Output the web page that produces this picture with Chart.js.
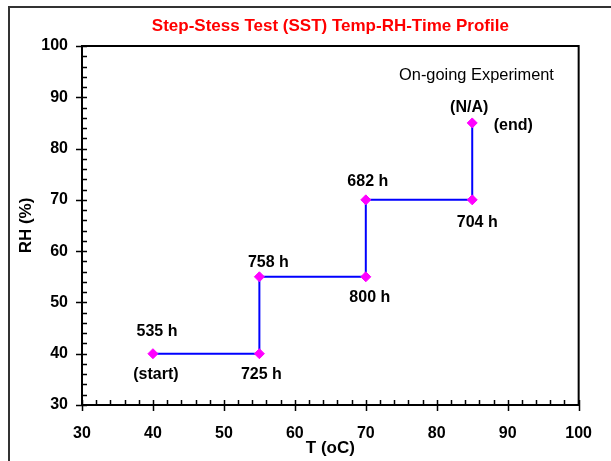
<!DOCTYPE html>
<html>
<head>
<meta charset="utf-8">
<script src="https://cdn.jsdelivr.net/npm/chart.js@4/dist/chart.umd.min.js"></script>
<style>
  html, body { margin: 0; padding: 0; background: #fff; }
  #wrap { width: 611px; height: 461px; position: relative; }
</style>
</head>
<body>
<div id="wrap"><canvas id="c" width="611" height="461"></canvas></div>
<script>
// Step-stress profile: temperature (x) vs relative humidity (y)
const temps = [40, 55, 55, 70, 70, 85, 85];
const humidity = [40, 40, 55, 55, 70, 70, 85];
const hourLabels = ['535 h', '725 h', '758 h', '800 h', '682 h', '704 h', '(N/A)'];
const xTicks = [30, 40, 50, 60, 70, 80, 90, 100];
const yTicks = [30, 40, 50, 60, 70, 80, 90, 100];
const chartTitle = 'Step-Stess Test (SST) Temp-RH-Time Profile';
const noteText = 'On-going Experiment';
const startText = '(start)';
const endText = '(end)';

// pixel offsets of each point's hour label
const labelOffsets = [[4, -22], [2, 21], [9, -14], [4, 21], [2, -18], [5, 23], [-3, -15]];

const FONT = '"Liberation Sans", Arial, sans-serif';

const extras = {
  id: 'extras',
  beforeDraw(chart) {
    const ctx = chart.ctx;
    ctx.save();
    ctx.fillStyle = '#fff';
    ctx.fillRect(0, 0, chart.width, chart.height);
    ctx.strokeStyle = '#333';
    ctx.lineWidth = 2;
    ctx.strokeRect(9, 7, 800, 800);
    ctx.restore();
  },
  afterDatasetsDraw(chart) {
    const ctx = chart.ctx;
    const xs = chart.scales.x, ys = chart.scales.y;
    const a = chart.chartArea;
    ctx.save();
    // frame on top and right
    ctx.strokeStyle = '#000';
    ctx.lineWidth = 2;
    ctx.beginPath();
    ctx.moveTo(a.left, a.top);
    ctx.lineTo(a.right, a.top);
    ctx.lineTo(a.right, a.bottom);
    ctx.stroke();
    // minor and major ticks
    ctx.lineWidth = 1.5;
    ctx.beginPath();
    for (let v = 30; v <= 100; v += 2) {
      const px = Math.round(xs.getPixelForValue(v)) + 0.5;
      const major = v % 10 === 0;
      ctx.moveTo(px, a.bottom - 5);
      ctx.lineTo(px, a.bottom + (major ? 6 : 0));
      const py = Math.round(ys.getPixelForValue(v)) + 0.5;
      ctx.moveTo(a.left - (major ? 6 : 0), py);
      ctx.lineTo(a.left + 5, py);
    }
    ctx.stroke();
    // title
    ctx.textAlign = 'center';
    ctx.textBaseline = 'middle';
    ctx.fillStyle = '#ff0000';
    ctx.font = 'bold 17px ' + FONT;
    ctx.fillText(chartTitle, (a.left + a.right) / 2, 26);
    // labels
    ctx.fillStyle = '#000';
    ctx.font = 'bold 16px ' + FONT;
    const meta = chart.getDatasetMeta(0);
    meta.data.forEach((pt, i) => {
      const o = labelOffsets[i];
      ctx.fillText(hourLabels[i], pt.x + o[0], pt.y + o[1]);
    });
    const p0 = meta.data[0], pN = meta.data[meta.data.length - 1];
    ctx.fillText(startText, p0.x + 3, p0.y + 21);
    ctx.fillText(endText, pN.x + 41, pN.y + 3);
    ctx.font = '16.4px ' + FONT;
    ctx.fillText(noteText, xs.getPixelForValue(85.6), ys.getPixelForValue(94.2));
    ctx.restore();
  }
};

new Chart(document.getElementById('c'), {
  type: 'line',
  data: {
    datasets: [{
      data: temps.map((t, i) => ({ x: t, y: humidity[i] })),
      borderColor: '#0000ff',
      borderWidth: 2,
      backgroundColor: '#ff00ff',
      pointBackgroundColor: '#ff00ff',
      pointBorderColor: '#ff00ff',
      pointStyle: 'rectRot',
      pointRadius: 5,
      pointBorderWidth: 1,
      tension: 0,
      fill: false
    }]
  },
  plugins: [extras],
  options: {
    responsive: false,
    animation: false,
    devicePixelRatio: 1,
    layout: { padding: { left: 0, right: 32, top: 46, bottom: 0 } },
    plugins: {
      legend: { display: false },
      tooltip: { enabled: false },
      title: { display: false }
    },
    scales: {
      x: {
        type: 'linear',
        min: 30, max: 100,
        afterBuildTicks: s => { s.ticks = xTicks.map(v => ({ value: v })); },
        afterFit: s => { s.height = 56; },
        grid: { display: false, drawTicks: false },
        border: { display: true, color: '#000', width: 2 },
        ticks: { color: '#000', font: { family: FONT, size: 16, weight: 'bold' }, padding: 19, maxRotation: 0 },
        title: { display: true, text: 'T (oC)', color: '#000', font: { family: FONT, size: 17, weight: 'bold' }, padding: { top: 0, bottom: 2 } }
      },
      y: {
        type: 'linear',
        min: 30, max: 100,
        afterBuildTicks: s => { s.ticks = yTicks.map(v => ({ value: v })); },
        afterFit: s => { s.width = 82; },
        grid: { display: false, drawTicks: false },
        border: { display: true, color: '#000', width: 2 },
        ticks: { color: '#000', font: { family: FONT, size: 16, weight: 'bold' }, padding: 14 },
        title: { display: true, text: 'RH (%)', color: '#000', font: { family: FONT, size: 17, weight: 'bold' }, padding: { top: 16, bottom: 0 } }
      }
    }
  }
});
</script>
</body>
</html>
